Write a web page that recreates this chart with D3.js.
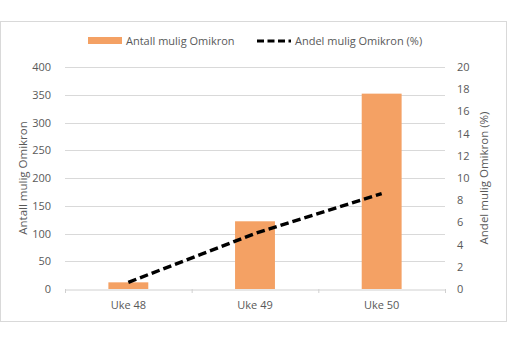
<!DOCTYPE html>
<html>
<head>
<meta charset="utf-8">
<script src="https://cdn.jsdelivr.net/npm/d3@7"></script>
<style>
  html, body { margin: 0; padding: 0; background: #fff; overflow: hidden; }
  svg { display: block; }
  text { font-family: "Open Sans", sans-serif; fill: #595959; }
</style>
</head>
<body>
<div id="chart"></div>
<script>
// data
const weeks = ["Uke 48", "Uke 49", "Uke 50"];
const antall = [12, 122, 352];
const andel = [0.6, 5.0, 8.6];
const leftTicks = [0, 50, 100, 150, 200, 250, 300, 350, 400];
const rightTicks = [0, 2, 4, 6, 8, 10, 12, 14, 16, 18, 20];

const width = 530, height = 354;
const margin = {top: 67, right: 85, bottom: 65, left: 65};
const plotRight = width - margin.right;
const plotBottom = height - margin.bottom;

var svg = d3.select("#chart")
  .append("svg")
  .attr("width", width)
  .attr("height", height);

// outer frame
svg.append("rect")
  .attr("x", 0.5).attr("y", 21.5)
  .attr("width", 506).attr("height", 300)
  .attr("fill", "none")
  .attr("stroke", "#d9d9d9");

var x = d3.scaleBand().domain(weeks).range([margin.left, plotRight]).paddingInner(0.685).paddingOuter(0.3425);
var xBound = d3.scaleBand().domain(weeks).range([margin.left, plotRight]);
var y = d3.scaleLinear().domain([0, 400]).range([plotBottom, margin.top]);
var y2 = d3.scaleLinear().domain([0, 20]).range([plotBottom, margin.top]);

// gridlines
svg.append("g")
  .selectAll("line")
  .data(leftTicks.filter(d => d > 0))
  .enter()
  .append("line")
  .attr("x1", margin.left).attr("x2", plotRight)
  .attr("y1", d => Math.round(y(d)) + 0.5)
  .attr("y2", d => Math.round(y(d)) + 0.5)
  .attr("stroke", "#d9d9d9");

// left axis labels
svg.append("g")
  .selectAll("text")
  .data(leftTicks)
  .enter()
  .append("text")
  .attr("x", margin.left - 14)
  .attr("y", d => y(d) + 4)
  .attr("text-anchor", "end")
  .style("font-size", "11px")
  .text(d => d);

// right axis labels
svg.append("g")
  .selectAll("text")
  .data(rightTicks)
  .enter()
  .append("text")
  .attr("x", plotRight + 12)
  .attr("y", d => y2(d) + 4)
  .style("font-size", "11px")
  .text(d => d);

// bars
svg.append("g")
  .selectAll("rect")
  .data(weeks)
  .enter()
  .append("rect")
  .attr("x", d => x(d))
  .attr("width", x.bandwidth())
  .attr("y", (d, i) => y(antall[i]))
  .attr("height", (d, i) => plotBottom - y(antall[i]))
  .attr("fill", "#f4a164");

// bottom axis
var xAxis = svg.append("g")
  .attr("transform", "translate(0," + (plotBottom + 0.5) + ")")
  .call(d3.axisBottom(xBound).tickSize(0).tickPadding(12));
xAxis.select(".domain").attr("stroke", "#d0d0d0");
xAxis.selectAll("text").style("font-size", "11px").attr("fill", "#595959");
// tick marks at category boundaries
svg.append("g")
  .selectAll("line")
  .data(weeks.concat(["end"]))
  .enter()
  .append("line")
  .attr("x1", (d, i) => margin.left + i * xBound.step() + 0.5)
  .attr("x2", (d, i) => margin.left + i * xBound.step() + 0.5)
  .attr("y1", plotBottom)
  .attr("y2", plotBottom + 4)
  .attr("stroke", "#d0d0d0");

// percentage line
var line = d3.line()
  .x((d, i) => xBound(weeks[i]) + xBound.bandwidth() / 2)
  .y(d => y2(d));
svg.append("path")
  .datum(andel)
  .attr("d", line)
  .attr("fill", "none")
  .attr("stroke", "#000")
  .attr("stroke-width", 3.4)
  .attr("stroke-dasharray", "8.5,4");

// axis titles
svg.append("text")
  .attr("transform", "translate(27," + ((margin.top + plotBottom) / 2) + ") rotate(-90)")
  .attr("text-anchor", "middle")
  .style("font-size", "11.5px")
  .text("Antall mulig Omikron");
svg.append("text")
  .attr("transform", "translate(488," + ((margin.top + plotBottom) / 2) + ") rotate(-90)")
  .attr("text-anchor", "middle")
  .style("font-size", "11.5px")
  .text("Andel mulig Omikron (%)");

// legend
var legend = svg.append("g");
legend.append("rect")
  .attr("x", 88).attr("y", 37)
  .attr("width", 34).attr("height", 7)
  .attr("fill", "#f4a164");
legend.append("text")
  .attr("x", 126).attr("y", 45)
  .style("font-size", "11px")
  .text("Antall mulig Omikron");
legend.append("line")
  .attr("x1", 257).attr("x2", 291)
  .attr("y1", 41).attr("y2", 41)
  .attr("stroke", "#000")
  .attr("stroke-width", 3)
  .attr("stroke-dasharray", "7,3.5");
legend.append("text")
  .attr("x", 295).attr("y", 45)
  .style("font-size", "11px")
  .text("Andel mulig Omikron (%)");
</script>
</body>
</html>
